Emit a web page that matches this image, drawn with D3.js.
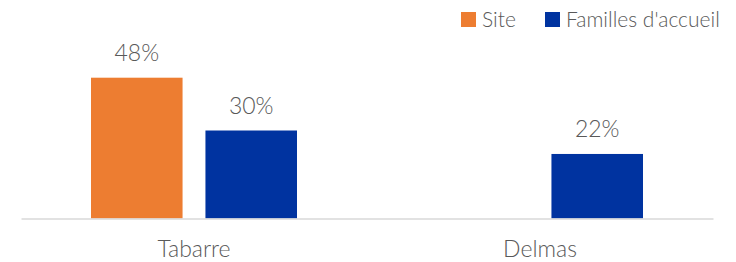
<!DOCTYPE html>
<html>
<head>
<meta charset="utf-8">
<script src="https://cdn.jsdelivr.net/npm/d3@7"></script>
<style>
  html, body { margin: 0; padding: 0; background: #fff; }
  svg { display: block; }
  text { font-family: Lato, "Open Sans", sans-serif; font-weight: 300; fill: #595959; }
</style>
</head>
<body>
<svg id="chart" width="736" height="262"></svg>
<script>
const categories = ["Tabarre", "Delmas"];
const seriesNames = ["Site", "Familles d'accueil"];
const siteValues = [0.48, null];
const familleValues = [0.30, 0.22];
const seriesColors = ["#ED7D31", "#0033A0"];

const W = 736, H = 262;
const margin = { left: 21, right: 23, top: 40, bottom: 43.5 };
const baseY = H - margin.bottom;

const svg = d3.select("#chart");

const x0 = d3.scaleBand().domain(categories).range([margin.left, W - margin.right]).paddingInner(0).paddingOuter(0);
const innerPad = 70;
const x1 = d3.scaleBand().domain(seriesNames).range([innerPad, x0.bandwidth() - innerPad]).paddingInner(0.2).paddingOuter(0);
const y = d3.scaleLinear().domain([0, 0.48]).range([baseY, 77.7]);

const data = [];
categories.forEach((c, i) => {
  data.push({ cat: c, series: seriesNames[0], value: siteValues[i], color: seriesColors[0] });
  data.push({ cat: c, series: seriesNames[1], value: familleValues[i], color: seriesColors[1] });
});
const shown = data.filter(d => d.value != null);

svg.append("g").selectAll("rect").data(shown).join("rect")
  .attr("x", d => x0(d.cat) + x1(d.series))
  .attr("y", d => y(d.value))
  .attr("width", x1.bandwidth())
  .attr("height", d => baseY - y(d.value))
  .attr("fill", d => d.color);

svg.append("g").selectAll("text").data(shown).join("text")
  .attr("x", d => x0(d.cat) + x1(d.series) + x1.bandwidth() / 2)
  .attr("y", d => y(d.value) - 17)
  .attr("text-anchor", "middle")
  .attr("font-size", 23)
  .text(d => Math.round(d.value * 100) + "%");

// axis
const axis = d3.axisBottom(x0).tickSize(0).tickPadding(0);
const gAxis = svg.append("g").attr("transform", `translate(0,${baseY})`).call(axis);
gAxis.select(".domain").attr("stroke", "#D9D9D9").attr("stroke-width", 1.5);
gAxis.selectAll(".tick text")
  .attr("font-family", "Lato, 'Open Sans', sans-serif")
  .attr("font-weight", 300)
  .attr("fill", "#595959")
  .attr("font-size", 23)
  .attr("dy", 0)
  .attr("y", 38.5);

// legend
const legendItems = [
  { name: seriesNames[0], color: seriesColors[0], x: 461 },
  { name: seriesNames[1], color: seriesColors[1], x: 545 }
];
const lg = svg.append("g");
legendItems.forEach(it => {
  lg.append("rect").attr("x", it.x).attr("y", 12).attr("width", 15).attr("height", 15).attr("fill", it.color);
  lg.append("text").attr("x", it.x + 21).attr("y", 26.5).attr("font-size", 21).text(it.name);
});
</script>
</body>
</html>
